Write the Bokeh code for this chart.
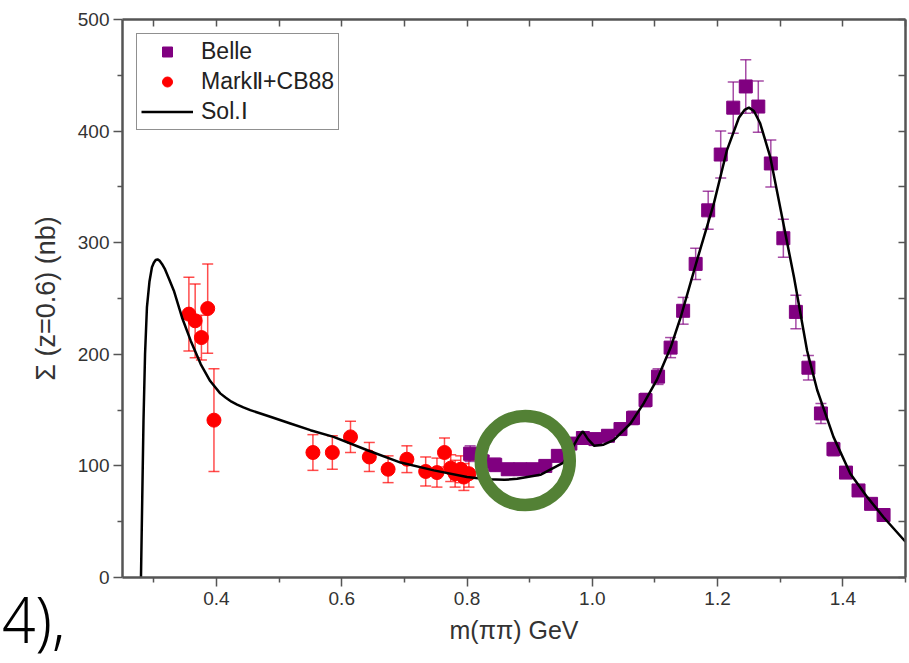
from bokeh.plotting import figure
from bokeh.models import (ColumnDataSource, Whisker, TeeHead, LinearAxis, FixedTicker,
                          PrintfTickFormatter, Legend, LegendItem, Range1d, Div)
from bokeh.layouts import column
from bokeh.embed import file_html
from bokeh.resources import INLINE

# ---------------- data ----------------
belle_x = [0.805, 0.825, 0.845, 0.865, 0.885, 0.905, 0.925, 0.945, 0.965, 0.985,
           1.005, 1.025, 1.045, 1.065, 1.085, 1.105, 1.125, 1.145, 1.165, 1.185,
           1.205, 1.225, 1.245, 1.265, 1.285, 1.305, 1.325, 1.345, 1.365, 1.385,
           1.405, 1.425, 1.445, 1.465]
belle_y = [111, 104, 101, 97, 97, 97, 100, 109, 120, 125,
           124, 127, 133, 143, 159, 180, 206, 239, 281, 329,
           379, 421, 440, 422, 371, 304, 238, 188, 147, 115,
           94, 78, 66, 56]
belle_err = [7, 6, 6, 5, 5, 5, 5, 5, 5, 5,
             5, 5, 5, 6, 6, 7, 9, 12, 14, 17,
             21, 23, 24, 23, 21, 17, 15, 11, 9, 6,
             5, 4, 4, 4]

mark_x = [0.356, 0.366, 0.376, 0.386, 0.396, 0.554, 0.585, 0.614, 0.644, 0.674,
          0.704, 0.734, 0.752, 0.764, 0.774, 0.781, 0.790, 0.795, 0.803]
mark_y = [236, 230, 215, 241, 141, 112, 112, 126, 108, 97,
          106, 95, 94, 112, 98, 93, 97, 90, 93]
mark_err = [33, 33, 20, 40, 46, 16, 15, 14, 13, 12,
            12, 13, 13, 13, 12, 12, 12, 12, 12]

sol_x = [0.2795, 0.2815, 0.2835, 0.286, 0.289, 0.293, 0.297, 0.300, 0.303, 0.306,
         0.309, 0.313, 0.318, 0.324, 0.332, 0.345, 0.359, 0.375, 0.390, 0.406,
         0.415, 0.424, 0.433, 0.443, 0.454, 0.486, 0.518, 0.550, 0.587, 0.641,
         0.694, 0.747, 0.800, 0.832, 0.860, 0.880, 0.917, 0.954, 0.970, 0.978,
         0.985, 0.993, 1.003, 1.018, 1.034, 1.061, 1.082, 1.103, 1.125, 1.141,
         1.167, 1.194, 1.215, 1.234, 1.243, 1.250, 1.258, 1.268, 1.284, 1.303,
         1.322, 1.343, 1.359, 1.385, 1.412, 1.439, 1.465, 1.500]
sol_y = [0, 70, 140, 200, 242, 265, 278, 282, 284.5, 285,
         284, 281, 276, 268, 257, 233, 212, 191, 176, 165,
         161, 157.5, 155, 152.5, 150, 144, 138, 132, 126, 114,
         103, 96, 90, 88, 87.5, 88.4, 92, 103, 118, 126,
         131, 124, 118, 119, 123, 138, 156, 177, 206, 233,
         284, 335, 383, 412, 419, 421, 418, 407, 377, 323,
         269, 203, 168, 126, 93, 72, 54, 32]

x_ticks = [0.4, 0.6, 0.8, 1.0, 1.2, 1.4]
x_minor = [0.3, 0.5, 0.7, 0.9, 1.1, 1.3, 1.5]
y_ticks = [0, 100, 200, 300, 400, 500]
y_minor = [50, 150, 250, 350, 450]

# ---------------- figure ----------------
AX = "#555555"
TXT = "#333333"
FONT = "Liberation Sans"

p = figure(width=909, height=663, output_backend="svg", toolbar_location=None,
           x_range=Range1d(0.25, 1.5), y_range=Range1d(0, 500),
           min_border_left=122, min_border_top=19, min_border_bottom=86,
           min_border_right=4, x_axis_location=None, y_axis_location=None)
p.grid.visible = False
p.outline_line_color = None
p.background_fill_color = "white"
p.border_fill_color = "white"


def style_line(ax):
    ax.axis_line_color = AX
    ax.axis_line_width = 2.5
    ax.major_tick_line_color = AX
    ax.minor_tick_line_color = AX
    ax.major_tick_line_width = 1.5
    ax.minor_tick_line_width = 1.5


def style_text(ax, label_size):
    ax.major_label_text_font = FONT
    ax.major_label_text_font_size = "19px"
    ax.major_label_text_color = TXT
    ax.axis_label_text_font = FONT
    ax.axis_label_text_font_size = label_size
    ax.axis_label_text_font_style = "normal"
    ax.axis_label_text_color = TXT


xb = LinearAxis(ticker=FixedTicker(ticks=x_ticks, minor_ticks=x_minor),
                formatter=PrintfTickFormatter(format="%.1f"), axis_label="m(ππ) GeV")
style_line(xb)
style_text(xb, "25px")
xb.major_tick_out, xb.major_tick_in = 9, 0
xb.minor_tick_out, xb.minor_tick_in = 5, 0
xb.major_label_standoff = 5
xb.axis_label_standoff = 8
p.add_layout(xb, "below")

yl = LinearAxis(ticker=FixedTicker(ticks=y_ticks, minor_ticks=y_minor),
                axis_label="Σ (z=0.6) (nb)")
style_line(yl)
style_text(yl, "27px")
yl.major_tick_out, yl.major_tick_in = 9, 0
yl.minor_tick_out, yl.minor_tick_in = 5, 0
yl.major_label_standoff = 4
yl.axis_label_standoff = 14
p.add_layout(yl, "left")

# mirror axes: inward tick marks only, no labels
xa = LinearAxis(ticker=FixedTicker(ticks=[], minor_ticks=sorted(x_ticks + x_minor)))
style_line(xa)
xa.minor_tick_out, xa.minor_tick_in = 0, 7
xa.major_label_standoff = 0
p.add_layout(xa, "above")

yr = LinearAxis(ticker=FixedTicker(ticks=[], minor_ticks=sorted(y_ticks + y_minor)))
style_line(yr)
yr.minor_tick_out, yr.minor_tick_in = 0, 7
yr.major_label_standoff = 0
p.add_layout(yr, "right")

# ---------------- data glyphs ----------------
mark_src = ColumnDataSource(dict(x=mark_x, y=mark_y,
                                 lo=[a - b for a, b in zip(mark_y, mark_err)],
                                 hi=[a + b for a, b in zip(mark_y, mark_err)]))
belle_src = ColumnDataSource(dict(x=belle_x, y=belle_y,
                                  lo=[a - b for a, b in zip(belle_y, belle_err)],
                                  hi=[a + b for a, b in zip(belle_y, belle_err)]))

RED = "#ff0000"
PUR = "#800080"

for src, col in ((mark_src, RED), (belle_src, PUR)):
    w = Whisker(source=src, base="x", lower="lo", upper="hi",
                line_color=col, line_width=1.5, line_alpha=0.7,
                upper_head=TeeHead(size=11, line_color=col, line_width=1.5, line_alpha=0.7),
                lower_head=TeeHead(size=11, line_color=col, line_width=1.5, line_alpha=0.7))
    p.add_layout(w)

red_r = p.scatter("x", "y", source=mark_src, marker="circle", size=14,
                  fill_color=RED, line_color=RED)
belle_r = p.scatter("x", "y", source=belle_src, marker="square", size=13,
                    fill_color=PUR, line_color=PUR)
sol_r = p.line(sol_x, sol_y, line_color="black", line_width=2.5)

# green highlight ring
p.scatter([0.893], [104.8], marker="circle", size=89, fill_color=None,
          line_color="#538135", line_width=12.5)

legend = Legend(items=[LegendItem(label="Belle", renderers=[belle_r]),
                       LegendItem(label="MarkⅡ+CB88", renderers=[red_r]),
                       LegendItem(label="Sol.Ⅰ", renderers=[sol_r])],
                location="top_left", margin=14, padding=4, spacing=3,
                glyph_width=52, glyph_height=25, label_height=25, label_standoff=8,
                label_text_font=FONT, label_text_font_size="23px",
                label_text_color="#222222",
                border_line_color="#222222", border_line_width=1.5,
                background_fill_color="white", background_fill_alpha=1)
p.add_layout(legend)

# fragment of the surrounding page text, bottom-left corner
note = Div(text="4),", width=90, height=76, margin=(-76, 0, 0, 2),
           styles={"font-family": "'Noto Sans', 'DejaVu Sans', sans-serif",
                   "font-size": "64px", "font-weight": "300", "line-height": "1",
                   "color": "black", "transform": "scaleX(0.92)",
                   "transform-origin": "left top"})

layout = column(p, note, spacing=0)

open("out.html", "w").write(file_html(layout, INLINE))
